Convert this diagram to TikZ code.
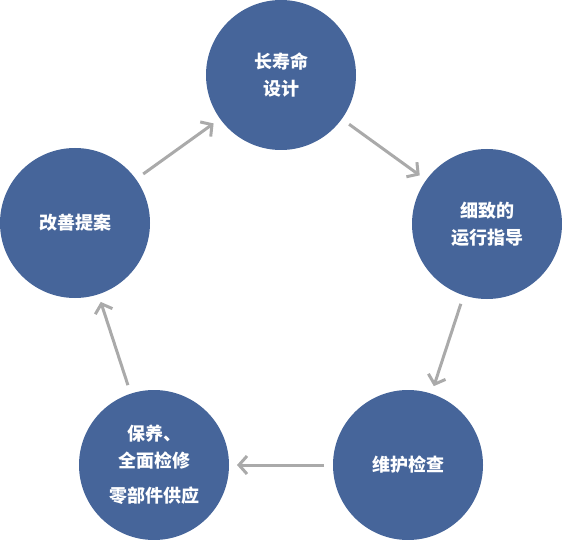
\documentclass[tikz,border=0pt]{standalone}
\usepackage{fontspec}
\newfontfamily\cjk{Noto Sans CJK SC}
\usetikzlibrary{arrows.meta}
\definecolor{cblue}{RGB}{70,101,154}
\definecolor{agray}{RGB}{170,170,170}
\tikzset{
  bubble/.style={circle, fill=cblue, minimum size=150pt, inner sep=0pt, outer sep=0pt,
    text=white, align=center, font=\cjk\bfseries\fontsize{18}{27}\selectfont},
  arr/.style={draw=agray, line width=3pt, shorten <=9pt, shorten >=8pt,
    -{Straight Barb[length=8pt,width=18pt]}}
}
\begin{document}
\begin{tikzpicture}[x=1pt,y=-1pt]
\useasboundingbox (0,0) rectangle (562,540);
\node[bubble] (top) at (281,75) {长寿命\\设计};
\node[bubble] (right) at (487,224) {细致的\\运行指导};
\node[bubble] (br) at (408,465) {维护检查};
\node[bubble] (bl) at (154,465) {保养、\\全面检修\\[8pt]零部件供应};
\node[bubble] (left) at (75,223) {改善提案};
\draw[arr] (left) -- (top);
\draw[arr] (top) -- (right);
\draw[arr] (right) -- (br);
\draw[arr] (br) -- (bl);
\draw[arr] (bl) -- (left);
\end{tikzpicture}
\end{document}
